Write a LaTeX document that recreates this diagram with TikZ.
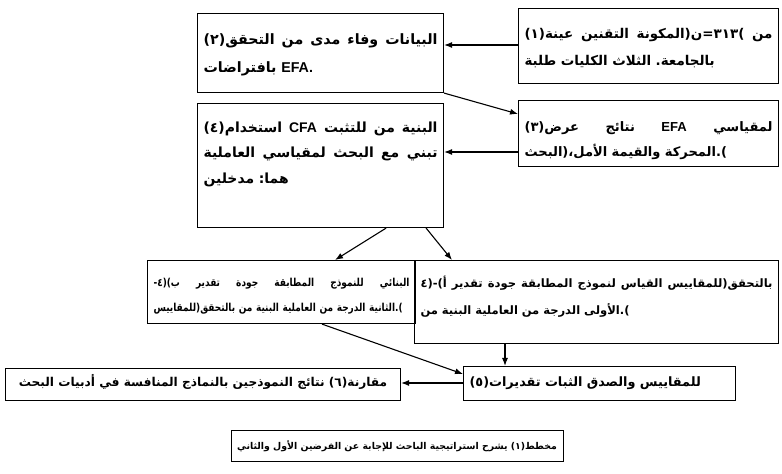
\documentclass[tikz,border=0pt]{standalone}
\usepackage{fontspec}
\usetikzlibrary{arrows.meta}
\TeXXeTstate=1
\newfontfamily\arabicfont[Script=Arabic]{DejaVu Sans Bold}
\newfontfamily\arabicc[Script=Arabic,FakeStretch=0.82]{DejaVu Sans Bold}
\newfontfamily\latf{Liberation Sans Bold}
\newcommand\hb{\hbox{}}
\newcommand\jl[2]{\leavevmode\hbox to #1{\spaceskip=0.3em plus 1fil\relax #2}}
\newcommand\fz[2]{\arabicfont\fontsize{#1}{#2}\selectfont}
\newcommand\fc[2]{\arabicc\fontsize{#1}{#2}\selectfont}
\begin{document}
\begin{tikzpicture}[x=1bp,y=-1bp,
  bx/.style={draw, line width=1.1bp, anchor=north west, inner xsep=6bp, inner ysep=0bp, align=left},
  arr/.style={line width=1.1bp, -{Latex[length=8bp,width=6bp]}}]
\fill[white] (0,0) rectangle (782,474);
\useasboundingbox (0,0) rectangle (782,474);
% boxes
\node[bx, font=\fz{13.5}{27}, text width=248bp, text height=30bp, text depth=45bp] (b1) at (518,8)
  {\jl{248bp}{(١)\hb عينة التقنين المكونة\hb(\hb ن\hb=\hb ٣١٣\hb) من}\\ طلبة الكليات الثلاث بالجامعة.};
\node[bx, font=\fz{14.3}{28}, text width=234bp, text height=31bp, text depth=48bp] (b2) at (197,13)
  {\jl{234bp}{(٢)\hb التحقق من مدى وفاء البيانات}\\ بافتراضات {\latf EFA.}};
\node[bx, font=\fz{13.1}{25}, text width=248bp, text height=31bp, text depth=35bp] (b3) at (518,100)
  {\jl{248bp}{(٣)\hb عرض نتائج {\latf EFA} لمقياسي}\\ البحث\hb(\hb الأمل، والقيمة المحركة\hb).};
\node[bx, font=\fz{14}{25.5}, text width=234bp, text height=29bp, text depth=95bp] (b4) at (197,103)
  {\jl{234bp}{(٤)\hb استخدام {\latf CFA} للتثبت من البنية}\\ \jl{234bp}{العاملية لمقياسي البحث مع تبني}\\ مدخلين هما:};
\node[bx, font=\fc{11}{25}, text width=256bp, text height=26bp, text depth=37bp] (b4b) at (147,260)
  {\jl{256bp}{(٤-\hb ب) تقدير جودة المطابقة للنموذج البنائي}\\ للمقاييس\hb(\hb بالتحقق من البنية العاملية من الدرجة الثانية\hb).};
\node[bx, font=\fz{11.6}{27}, text width=352bp, text height=27bp, text depth=56bp] (b4a) at (414,260)
  {\jl{352bp}{(٤\hb-\hb أ) تقدير جودة المطابقة لنموذج القياس للمقاييس\hb(\hb بالتحقق}\\ من البنية العاملية من الدرجة الأولى\hb).};
\node[bx, font=\fz{12.9}{20}, text width=260bp, text height=20bp, text depth=14bp] (b5) at (463,366)
  {(٥)\hb تقديرات الثبات والصدق للمقاييس};
\node[bx, font=\fz{12.2}{20}, minimum width=395bp, text height=18bp, text depth=14bp] (b6) at (5,368)
  {\beginR مقارنة\hb(٦) نتائج النموذجين بالنماذج المنافسة في أدبيات البحث\endR};
\node[bx, font=\fz{9.4}{20}, minimum width=330bp, text height=19bp, text depth=12bp, anchor=north, line width=0.8bp] (cap) at (397,430)
  {\beginR مخطط\hb(١) يشرح استراتيجية الباحث للإجابة عن الفرضين الأول والثاني\endR};
% helper coordinates
\coordinate (y45) at (0,45);
\coordinate (y152) at (0,152);
\coordinate (y383) at (0,383);
\coordinate (v5) at ([xshift=42bp]b5.north west);
% connectors
\draw[arr] (b1.west |- y45) -- (b2.east |- y45);
\draw[arr] (b2.south east) -- ([yshift=-14bp]b3.north west);
\draw[arr] (b3.west |- y152) -- (b4.east |- y152);
\draw[arr] ([xshift=-58bp]b4.south east) -- ([xshift=188bp]b4b.north west);
\draw[arr] ([xshift=-18bp]b4.south east) -- ([xshift=38bp]b4a.north west);
\draw[arr] ([xshift=175bp]b4b.south west) -- ([yshift=-8bp]b5.north west);
\draw[arr] (v5 |- b4a.south) -- (v5);
\draw[arr] (b5.west |- y383) -- (b6.east |- y383);
\end{tikzpicture}
\end{document}
